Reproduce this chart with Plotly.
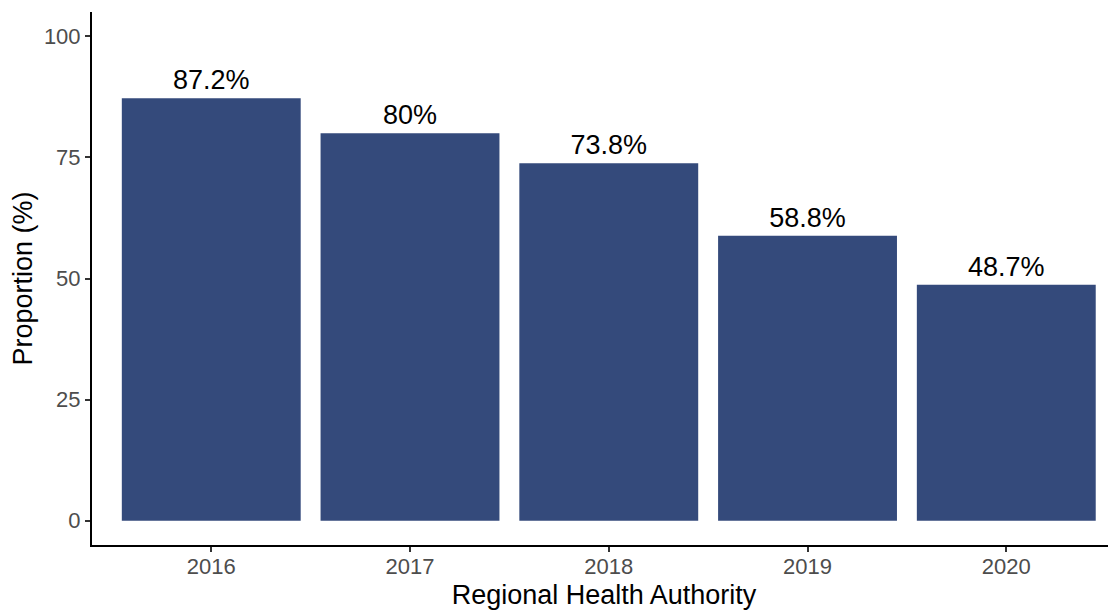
import plotly.graph_objects as go

years = ["2016", "2017", "2018", "2019", "2020"]
proportions = [87.2, 80.0, 73.8, 58.8, 48.7]
labels = ["87.2%", "80%", "73.8%", "58.8%", "48.7%"]
y_ticks = [0, 25, 50, 75, 100]

FONT = "Arial, 'Liberation Sans', sans-serif"

fig = go.Figure()
fig.add_trace(go.Bar(
    x=list(range(len(years))),
    y=proportions,
    width=0.9,
    marker=dict(color="#344a7b", line=dict(width=0)),
    text=labels,
    textposition="outside",
    textfont=dict(family=FONT, size=27, color="black"),
    cliponaxis=False,
    hoverinfo="skip",
))

fig.update_layout(
    width=1108, height=602,
    margin=dict(l=84, r=0, t=4, b=65),
    paper_bgcolor="white",
    plot_bgcolor="white",
    showlegend=False,
    font=dict(family=FONT),
    uniformtext=dict(mode=False),
)
fig.update_xaxes(
    range=[-0.6, 4.552],
    tickvals=list(range(len(years))),
    ticktext=years,
    showline=True, linecolor="black", linewidth=2,
    ticks="outside", ticklen=5, tickwidth=2, tickcolor="#333333",
    tickfont=dict(family=FONT, size=22, color="#4d4d4d"),
    ticklabelstandoff=-4,
    showgrid=False, zeroline=False,
    title=dict(text="Regional Health Authority", font=dict(family=FONT, size=27, color="black"), standoff=9),
)
fig.update_yaxes(
    range=[-5, 105],
    tickvals=y_ticks,
    ticktext=[str(v) for v in y_ticks],
    showline=True, linecolor="black", linewidth=2,
    ticks="outside", ticklen=5, tickwidth=2, tickcolor="#333333",
    tickfont=dict(family=FONT, size=22, color="#4d4d4d"),
    showgrid=False, zeroline=False,
    title=dict(text="Proportion (%)", font=dict(family=FONT, size=27, color="black"), standoff=8),
)

fig.write_html("out.html")
